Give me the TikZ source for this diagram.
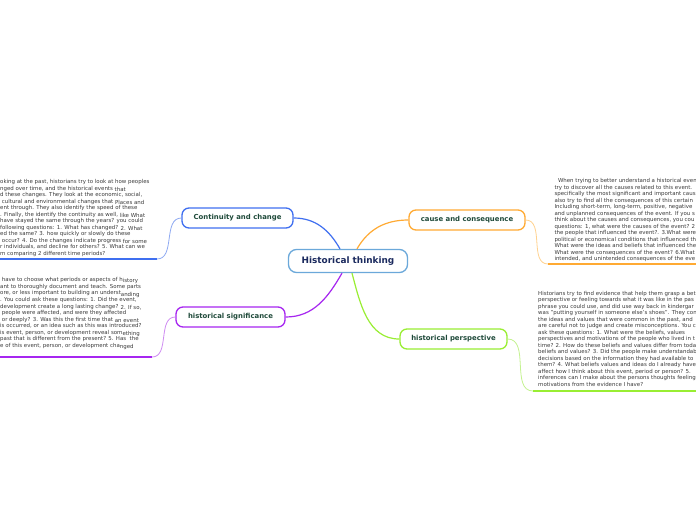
\documentclass[tikz,border=0pt]{standalone}
\usepackage{fontspec}
\setmainfont{DejaVu Sans}
\definecolor{hubc}{HTML}{6BA8DA}
\definecolor{hubtxt}{HTML}{1B2A5E}
\definecolor{bluec}{HTML}{3F6FF0}
\definecolor{lbluec}{HTML}{8FAAF2}
\definecolor{orangec}{HTML}{FFAA33}
\definecolor{lorangec}{HTML}{FFD28F}
\definecolor{purplec}{HTML}{A626F0}
\definecolor{lpurplec}{HTML}{CF8CF2}
\definecolor{greenc}{HTML}{99EE33}
\definecolor{lgreenc}{HTML}{C4F290}
\definecolor{toptxt}{HTML}{1F4A3A}
\definecolor{bodytxt}{HTML}{3A3A3A}
\newcommand\lw[1]{\raisebox{-1.1pt}{#1}}
\begin{document}
\begin{tikzpicture}[x=1pt,y=-1pt,
  hub/.style={draw=hubc, line width=1.3pt, fill=white, rounded corners=8pt,
    minimum width=119pt, minimum height=23pt, inner sep=0pt,
    font=\fontsize{8.9}{10}\selectfont\bfseries, text=hubtxt},
  topic/.style={draw=#1, line width=1.3pt, fill=white, rounded corners=7pt,
    minimum height=20pt, inner sep=0pt,
    font=\fontsize{6.9}{8}\selectfont\bfseries, text=toptxt},
  body/.style={inner sep=0pt, align=left, text=bodytxt, anchor=north west,
    font=\fontsize{5.45}{6.5}\selectfont},
  link/.style={draw=#1, line width=1.2pt},
  sublink/.style={draw=#1, line width=0.8pt},
  underl/.style={draw=#1, line width=2pt}]
\useasboundingbox[fill=white] (0,0) rectangle (696,520);

% main nodes
\node[hub] (hub) at (348,261) {Historical thinking};
\node[topic=bluec, minimum width=111pt] (cont) at (237.5,218) {Continuity and change};
\node[topic=purplec, minimum width=109pt] (sig) at (230.5,317) {historical significance};
\node[topic=orangec, minimum width=116pt] (cause) at (467,220) {cause and consequence};
\node[topic=greenc, minimum width=107pt] (persp) at (453.5,339) {historical perspective};

% connectors from hub
\draw[link=bluec] ([xshift=-8pt]hub.north) to[out=120,in=0] (cont.east);
\draw[link=orangec] ([xshift=9pt]hub.north) to[out=60,in=180] (cause.west);
\draw[link=purplec] ([xshift=-6pt]hub.south) to[out=-120,in=0] (sig.east);
\draw[link=greenc] ([xshift=4pt]hub.south) to[out=-75,in=180] (persp.west);

% underline end points
\coordinate (u1) at (157,259);  \coordinate (u1e) at (0,259);
\coordinate (u2) at (152,357);  \coordinate (u2e) at (0,357);
\coordinate (u3) at (548,264);  \coordinate (u3e) at (696,264);
\coordinate (u4) at (533,391);  \coordinate (u4e) at (696,391);

\draw[sublink=lbluec] (cont.west) to[out=180,in=0] (u1);
\draw[underl=bluec] (u1) -- (u1e);
\draw[sublink=lpurplec] (sig.west) to[out=180,in=0] (u2);
\draw[underl=purplec] (u2) -- (u2e);
\draw[sublink=lorangec] (cause.east) to[out=0,in=180] (u3);
\draw[underl=orangec] (u3) -- (u3e);
\draw[sublink=lgreenc] (persp.east) to[out=0,in=180] (u4);
\draw[underl=greenc] (u4) -- (u4e);

% text blocks
\node[body] (t1) at (0,179.5) {%
oking at the past, historians try to look at how peoples\\
nged over time, and the historical events \lw{that}\\
d these changes. They look at the economic, social,\\
\ cultural and environmental changes that \lw{Places and}\\
ent through. They also identify the speed of these\\
. Finally, the identify the continuity as well, \lw{like What}\\
have stayed the same through the years? you could\\
following questions: 1. What has changed? \lw{2. What}\\
ed the same? 3. how quickly or slowly do these\\
\ occur? 4. Do the changes indicate progress \lw{for some}\\
r individuals, and decline for others? 5. What can we\\
m comparing 2 different time periods?};

\node[body, font=\fontsize{5.45}{6.57}\selectfont] (t2) at (0,277.5) {%
\ have to choose what periods or aspects of h\lw{istory}\\
ant to thoroughly document and teach. Some parts\\
ore, or less important to building an underst\lw{anding}\\
. You could ask these questions: 1. Did the event,\\
development create a long lasting change? \lw{2. If so,}\\
\ people were affected, and were they affected\\
\ or deeply? 3. Was this the first time that \lw{an event}\\
is occurred, or an idea such as this was introduced?\\
is event, person, or development reveal som\lw{ething}\\
past that is different from the present? 5. Has\ \ the\\
e of this event, person, or development cha\lw{nged}};

\node[body] (t3) at (554.3,178.5) {%
\hspace{3.5pt}When trying to better understand a historical event\\
try to discover all the causes related to this event.\\
specifically the most significant and important caus\\
also try to find all the consequences of this certain\\
Including short-term, long-term, positive, negative\\
and unplanned consequences of the event. If you s\\
think about the causes and consequences, you cou\\
questions: 1, what were the causes of the event? 2\\
the people that influenced the event?. 3.What were\\
political or economical conditions that influenced th\\
What were the ideas and beliefs that influenced the\\
What were the consequences of the event? 6.What\\
intended, and unintended consequences of the eve};

\node[body] (t4) at (538,291) {%
Historians try to find evidence that help them grasp a bet\\
perspective or feeling towards what it was like in the pas\\
phrase you could use, and did use way back in kindergar\\
was "putting yourself in someone else's shoes". They con\\
the ideas and values that were common in the past, and\\
are careful not to judge and create misconceptions. You c\\
ask these questions: 1. What were the beliefs, values\\
perspectives and motivations of the people who lived in t\\
time? 2. How do these beliefs and values differ from toda\\
beliefs and values? 3. Did the people make understandab\\
decisions based on the information they had available to\\
them? 4. What beliefs values and ideas do I already have\\
affect how I think about this event, period or person? 5.\\
inferences can I make about the persons thoughts feeling\\
motivations from the evidence I have?};
\end{tikzpicture}
\end{document}
